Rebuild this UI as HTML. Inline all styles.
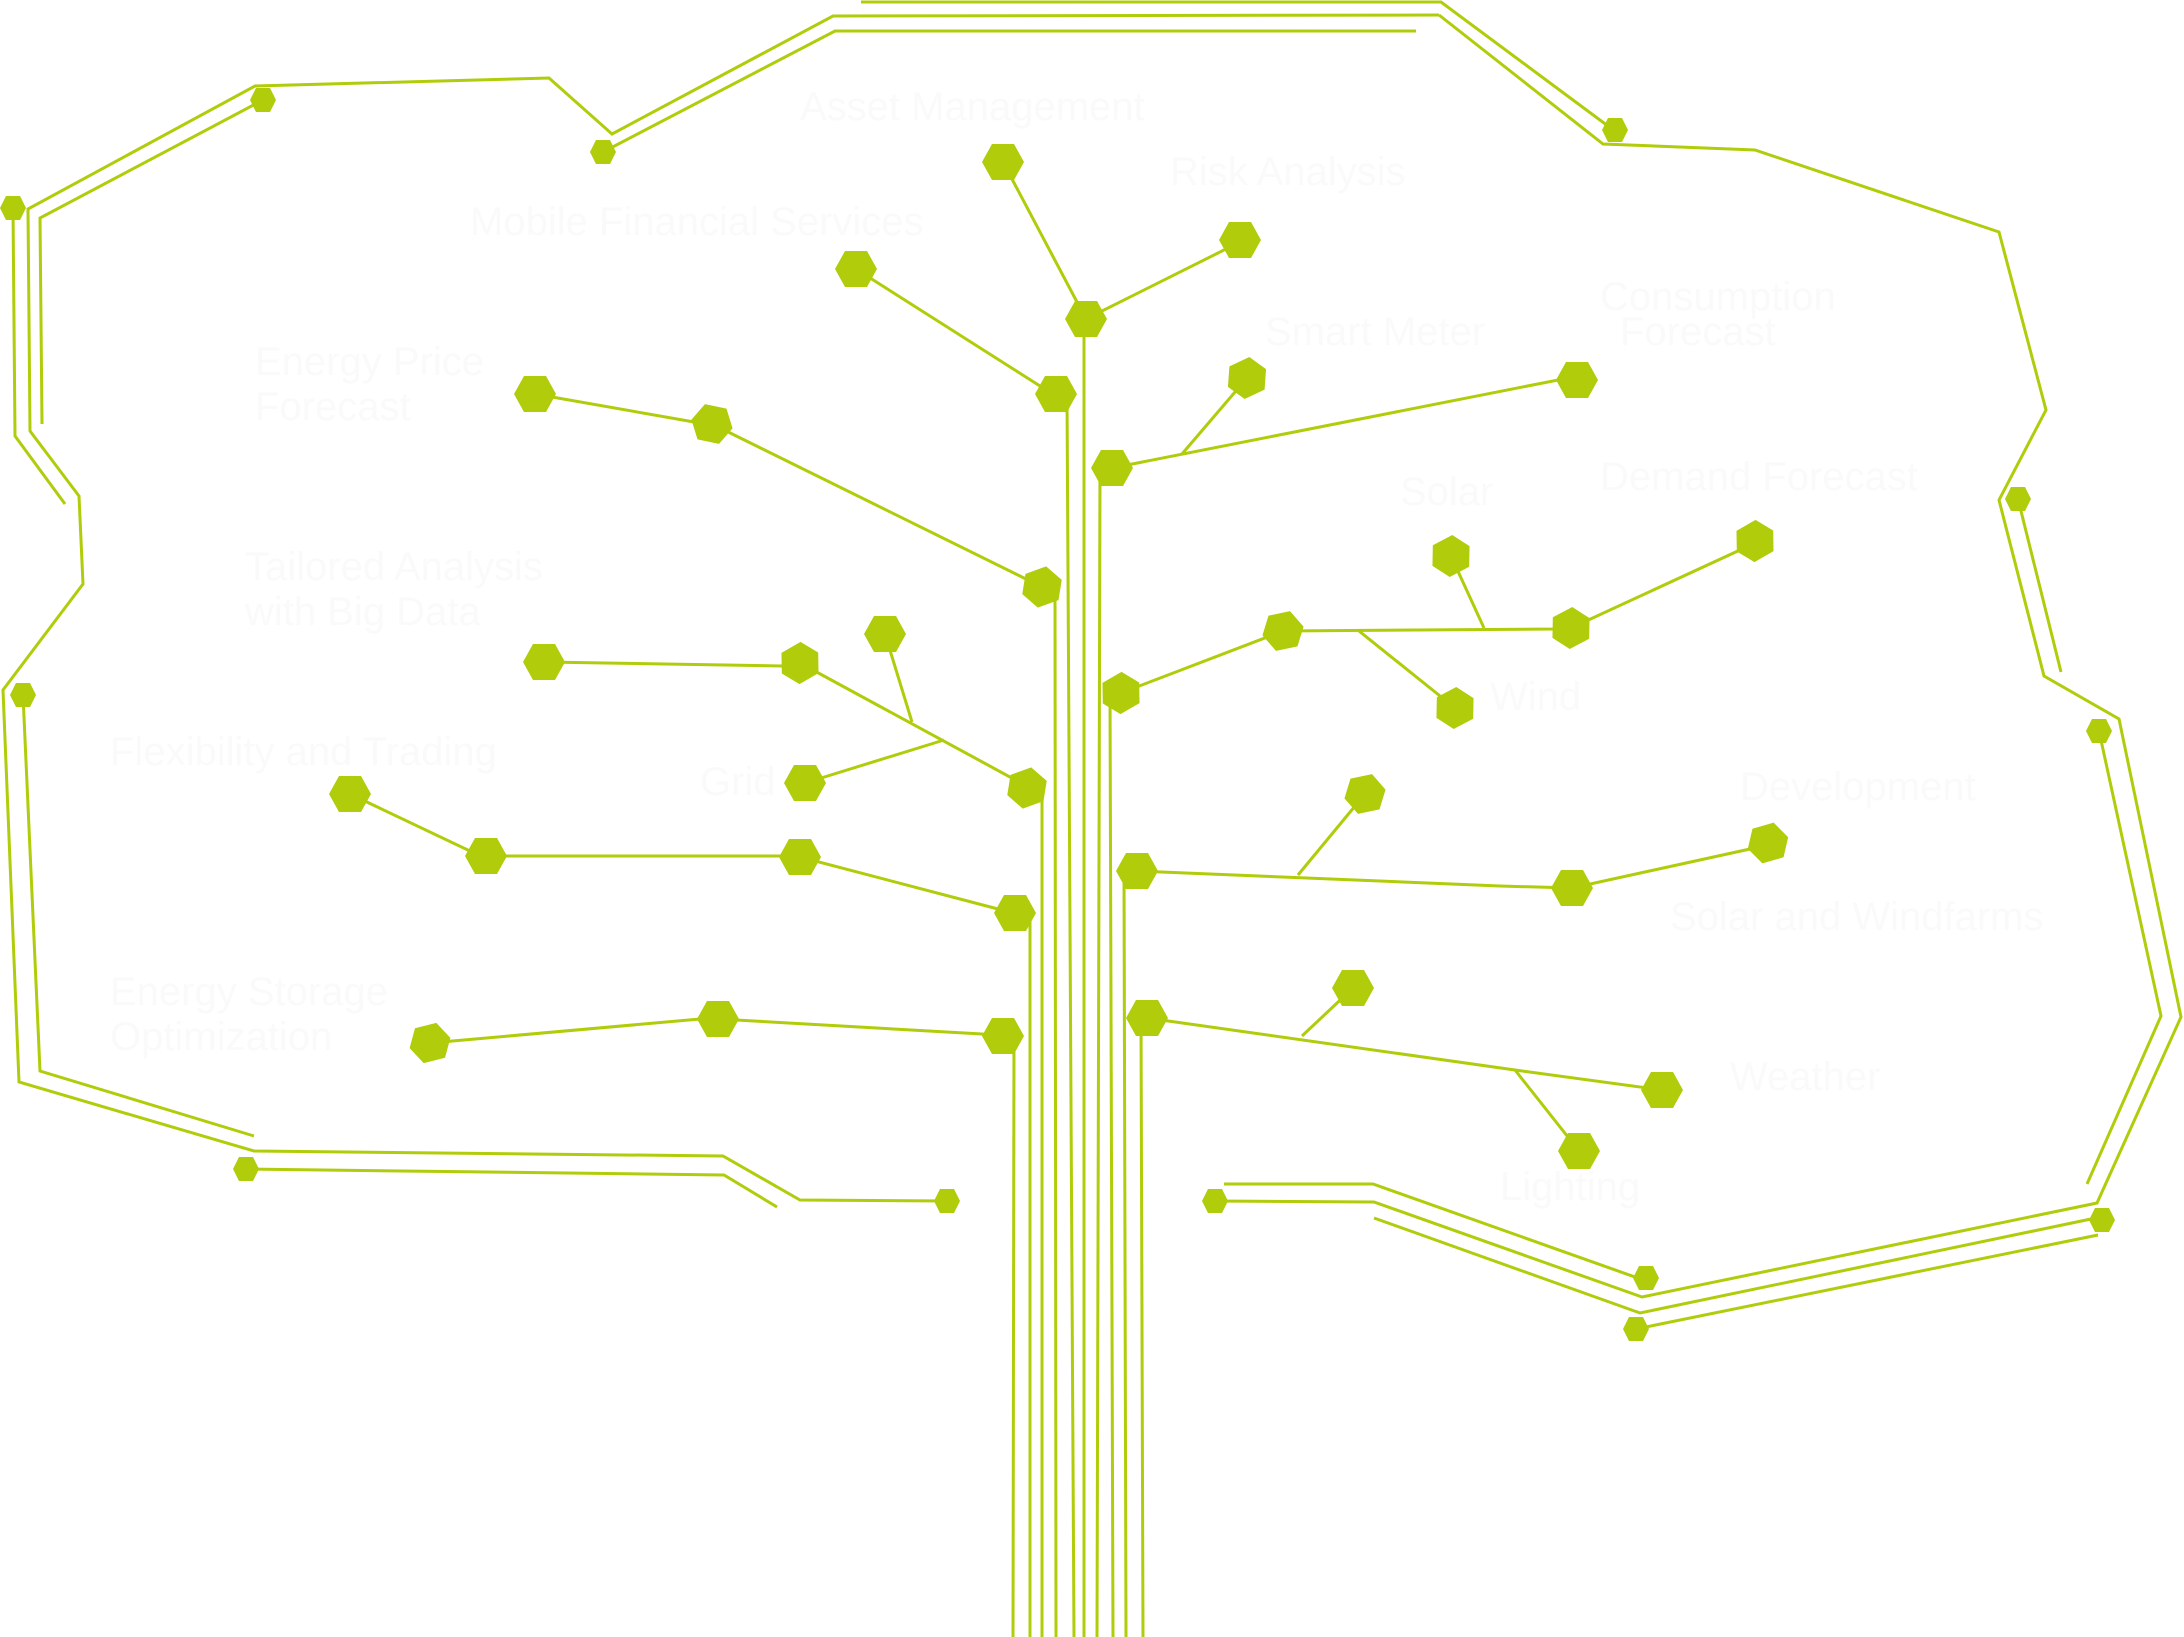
<!DOCTYPE html>
<html><head><meta charset="utf-8"><style>
html,body{margin:0;padding:0;background:#fff;}
svg{display:block;}
text{font-family:"Liberation Sans",sans-serif;fill:#fafafa;font-size:40px;}
</style></head><body>
<svg width="2184" height="1637" viewBox="0 0 2184 1637" xmlns="http://www.w3.org/2000/svg">
<defs>
<polygon id="H" points="-21,0 -11,-18 11,-18 21,0 11,18 -11,18" fill="#b1cc0a"/>
<polygon id="h" points="-13,0 -7,-12 7,-12 13,0 7,12 -7,12" fill="#b1cc0a"/>
</defs>
<g fill="none" stroke="#b1cc0a" stroke-width="3" stroke-linejoin="miter">
<polyline points="861,2 1441,2 1608,126"/>
<polyline points="1416,31 835,31 603,152"/>
<polyline points="1439,15 833,16 612,134 549,78 255,86 28,209 30,431 79,496 83,584 3,690 19,1082 254,1151 723,1156 800,1200 947,1201"/>
<polyline points="1439,15 1603,144 1755,150 1999,232 2046,410 1999,500 2044,676 2119,719 2181,1017 2097,1203 1642,1297 1374,1202 1215,1201"/>
<polyline points="263,100 40,218 42,424"/>
<polyline points="13,208 15,436 65,504"/>
<polyline points="23,695 40,1071 254,1136"/>
<polyline points="246,1169 724,1175 777,1207"/>
<polyline points="2018,499 2061,672"/>
<polyline points="2099,731 2161,1016 2087,1184"/>
<polyline points="1224,1184 1373,1184 1635,1277 1646,1278"/>
<polyline points="1374,1218 1640,1313 2091,1219"/>
<polyline points="1636,1329 2098,1235"/>
<polyline points="1003,162 1077,302 1086,319"/>
<polyline points="1086,319 1224,250 1240,240"/>
<polyline points="856,269 1040,386 1056,394"/>
<polyline points="535,394 694,422 712,424 1026,579 1042,587"/>
<polyline points="1112,468 1558,380 1577,380"/>
<line x1="1182" y1="454" x2="1247" y2="378"/>
<polyline points="1121,693 1283,631 1553,629 1571,628 1740,550 1755,541"/>
<line x1="1484" y1="628" x2="1451" y2="556"/>
<line x1="1359" y1="631" x2="1455" y2="708"/>
<polyline points="544,662 782,666 800,663 1010,777 1027,788"/>
<line x1="885" y1="634" x2="912" y2="722"/>
<line x1="944" y1="740" x2="805" y2="783"/>
<polyline points="350,794 472,852 486,856 782,856 800,857 998,909 1015,913"/>
<polyline points="430,1043 700,1019 718,1019 982,1034 1003,1036"/>
<polyline points="1137,871 1500,886 1572,888 1750,849 1768,843"/>
<line x1="1298" y1="875" x2="1365" y2="794"/>
<polyline points="1147,1018 1515,1070 1662,1090"/>
<line x1="1515" y1="1070" x2="1579" y2="1151"/>
<line x1="1302" y1="1036" x2="1353" y2="988"/>
<line x1="1014" y1="1036" x2="1013" y2="1637"/>
<line x1="1030" y1="913" x2="1030" y2="1637"/>
<line x1="1042" y1="788" x2="1042" y2="1637"/>
<line x1="1055" y1="587" x2="1056" y2="1637"/>
<line x1="1067" y1="394" x2="1074" y2="1637"/>
<line x1="1084" y1="319" x2="1084" y2="1637"/>
<line x1="1100" y1="468" x2="1097" y2="1637"/>
<line x1="1110" y1="693" x2="1113" y2="1637"/>
<line x1="1124" y1="871" x2="1126" y2="1637"/>
<line x1="1141" y1="1018" x2="1143" y2="1637"/>
</g>
<g>
<use href="#h" x="1615" y="130"/><use href="#h" x="603" y="152"/><use href="#h" x="263" y="100"/>
<use href="#h" x="13" y="208"/><use href="#h" x="23" y="695"/><use href="#h" x="246" y="1169"/>
<use href="#h" x="947" y="1201"/><use href="#h" x="2018" y="499"/><use href="#h" x="2099" y="731"/>
<use href="#h" x="1215" y="1201"/><use href="#h" x="1646" y="1278"/><use href="#h" x="2102" y="1220"/>
<use href="#h" x="1636" y="1329"/>
<use href="#H" x="1003" y="162"/><use href="#H" x="1086" y="319"/><use href="#H" x="1240" y="240"/>
<use href="#H" x="856" y="269"/><use href="#H" x="1056" y="394"/><use href="#H" x="535" y="394"/>
<use href="#H" x="712" y="424" transform="rotate(12 712 424)"/><use href="#H" x="1042" y="587" transform="rotate(-20 1042 587)"/>
<use href="#H" x="1112" y="468"/><use href="#H" x="1577" y="380"/><use href="#H" x="1247" y="378" transform="rotate(-25 1247 378)"/>
<use href="#H" x="1121" y="693" transform="rotate(-30 1121 693)"/><use href="#H" x="1283" y="631" transform="rotate(-12 1283 631)"/>
<use href="#H" x="1571" y="628" transform="rotate(-28 1571 628)"/><use href="#H" x="1755" y="541" transform="rotate(-30 1755 541)"/>
<use href="#H" x="1451" y="556" transform="rotate(-28 1451 556)"/><use href="#H" x="1455" y="708" transform="rotate(-28 1455 708)"/>
<use href="#H" x="544" y="662"/><use href="#H" x="800" y="663" transform="rotate(-30 800 663)"/><use href="#H" x="885" y="634"/>
<use href="#H" x="1027" y="788" transform="rotate(-20 1027 788)"/><use href="#H" x="805" y="783"/>
<use href="#H" x="350" y="794"/><use href="#H" x="486" y="856"/><use href="#H" x="800" y="857"/>
<use href="#H" x="1015" y="913"/><use href="#H" x="430" y="1043" transform="rotate(-14 430 1043)"/>
<use href="#H" x="718" y="1019"/><use href="#H" x="1003" y="1036"/>
<use href="#H" x="1137" y="871"/><use href="#H" x="1572" y="888"/><use href="#H" x="1768" y="843" transform="rotate(-16 1768 843)"/>
<use href="#H" x="1365" y="794" transform="rotate(-12 1365 794)"/><use href="#H" x="1147" y="1018"/>
<use href="#H" x="1662" y="1090"/><use href="#H" x="1579" y="1151"/><use href="#H" x="1353" y="988"/>
</g>
<g>
<text x="800" y="120">Asset Management</text>
<text x="470" y="235">Mobile Financial Services</text>
<text x="255" y="375">Energy Price</text><text x="255" y="420">Forecast</text>
<text x="1170" y="185">Risk Analysis</text>
<text x="1265" y="345">Smart Meter</text>
<text x="1600" y="310">Consumption</text><text x="1620" y="345">Forecast</text>
<text x="245" y="580">Tailored Analysis</text><text x="245" y="625">with Big Data</text>
<text x="1400" y="505">Solar</text>
<text x="1600" y="490">Demand Forecast</text>
<text x="110" y="765">Flexibility and Trading</text>
<text x="700" y="795">Grid</text>
<text x="1490" y="710">Wind</text>
<text x="1740" y="800">Development</text>
<text x="110" y="1005">Energy Storage</text><text x="110" y="1050">Optimization</text>
<text x="1670" y="930">Solar and Windfarms</text>
<text x="1730" y="1090">Weather</text>
<text x="1500" y="1200">Lighting</text>
</g>
</svg>
</body></html>
